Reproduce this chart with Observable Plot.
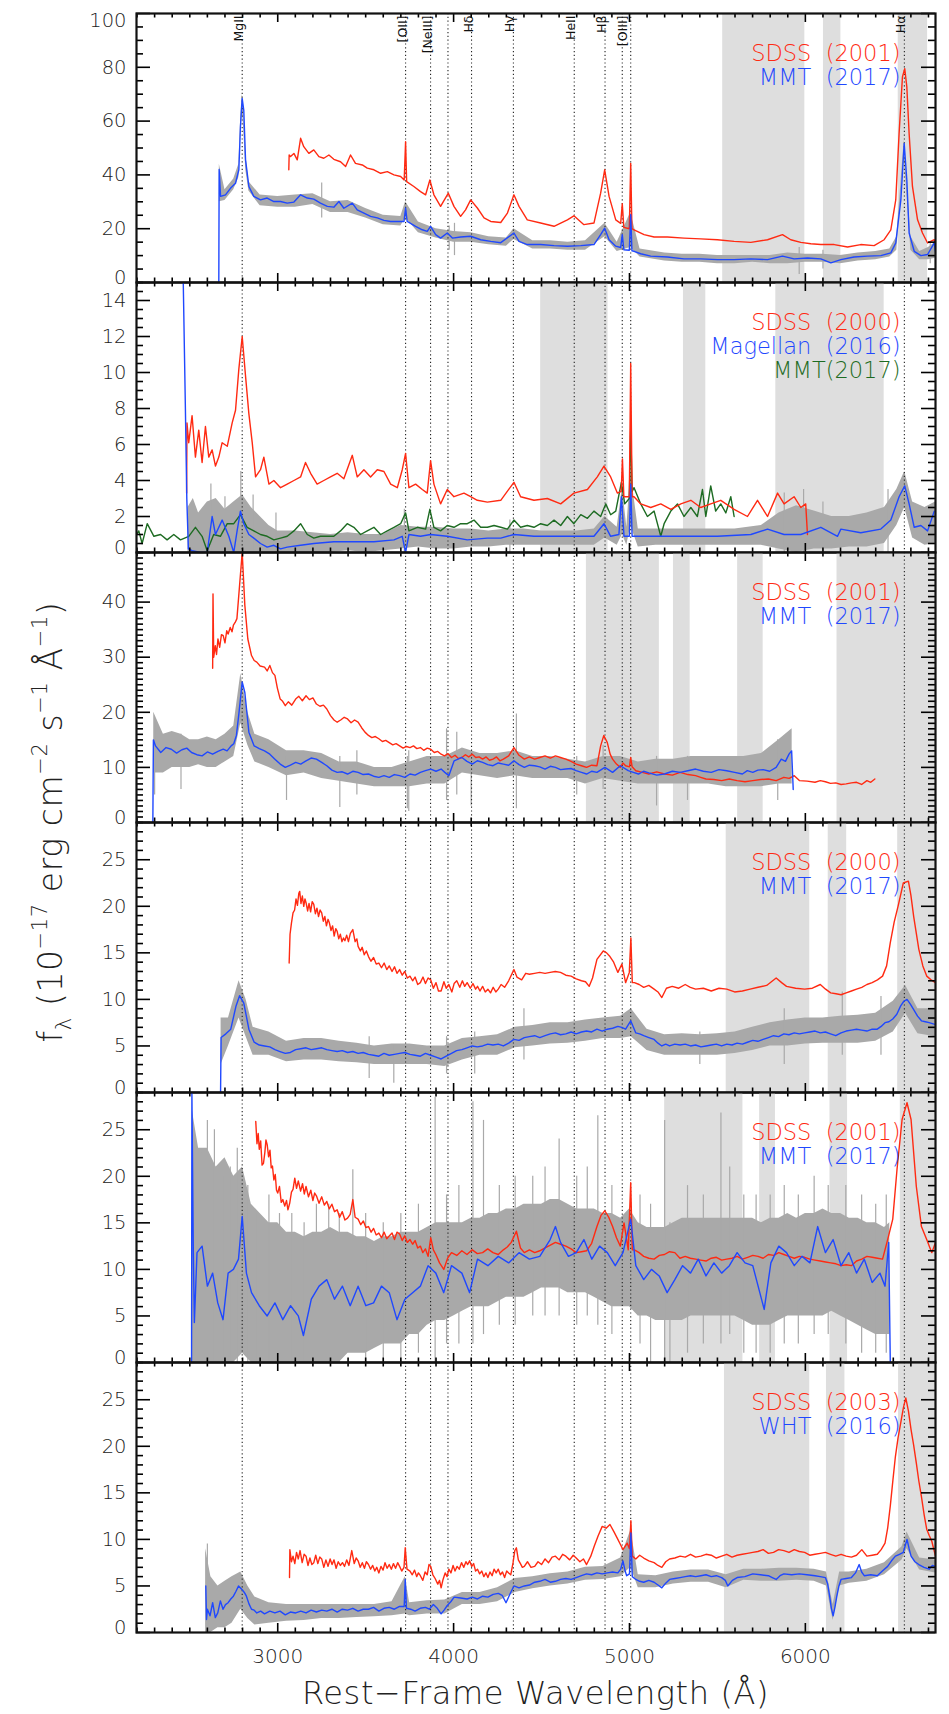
<!DOCTYPE html>
<html>
<head>
<meta charset="utf-8">
<script src="https://cdn.jsdelivr.net/npm/d3@7"></script>
<script src="https://cdn.jsdelivr.net/npm/@observablehq/plot@0.6"></script>
<style>
  body { margin: 0; background: #fff; }
  #chart { position: relative; width: 949px; height: 1714px; color: #222;
           font-family: "DejaVu Sans", sans-serif; font-weight: 200; }
  .panel { position: absolute; left: 0; }
  .panel svg { overflow: visible; }
  #xtitle { position: absolute; left: 136px; width: 799px; top: 1674px; text-align: center;
            font-size: 32px; letter-spacing: 0.6px; }
  #ytitle { position: absolute; left: 52px; top: 822px; transform: translate(-50%, -50%) rotate(-90deg);
            white-space: nowrap; font-size: 33px; letter-spacing: 0.6px; }
  #ytitle sup { font-size: 21px; vertical-align: 15px; }
  #ytitle sub { font-size: 21px; vertical-align: -9px; }
</style>
</head>
<body>
<div id="chart">
  <div id="xtitle">Rest−Frame Wavelength (Å)</div>
  <div id="ytitle">f<sub>λ</sub> (10<sup>−17</sup> erg cm<sup>−2</sup> s<sup>−1</sup> Å<sup>−1</sup>)</div>
</div>
<script>
// ---- shared axes ----
const waveDomain = [2197, 6740];
const xMajorTicks = [3000, 4000, 5000, 6000];
const xMinorStep = 100;

// emission lines marked with dotted rules in every panel
const lineWaves = [2798, 3727, 3869, 3968, 4102, 4340, 4686, 4861, 4959, 5007, 6563];
// line names written along the top of the first panel
const lineNames = ["MgII", "[OII]", "[NeIII]", "Hδ", "Hγ", "HeII", "Hβ", "[OIII]", "Hα"];
const lineNameWaves = [2798, 3727, 3869, 4102, 4340, 4686, 4861, 4983, 6563];

const RED = "#ff2a12", BLUE = "#1f48ff", GREEN = "#1d6b22", GRAY = "#a9a9a9", BAND = "#dedede";

// ---- panel 1 : SDSS 2001 / MMT 2017 ----
const p1Bands = [[5530, 5997], [6103, 6202], [6528, 6695]];
const p1Sdss = [[3063,41.9],[3065,47.4],[3073,46.8],[3092,48],[3111,45.6],[3130,53.6],[3148,50.5],[3177,48],[3205,49.3],[3234,46.8],[3262,46.2],[3291,47.4],[3319,45.8],[3357,44.9],[3386,43.1],[3414,47.4],[3442,44.3],[3481,43.7],[3509,42.5],[3547,41.9],[3585,40.6],[3623,41.2],[3661,40],[3699,39.4],[3719,38.1],[3727,52.3],[3733,37.5],[3774,35.7],[3812,33.8],[3841,32.6],[3865,38.1],[3888,32.6],[3926,28.3],[3970,33.2],[4002,28.3],[4040,24.6],[4068,27],[4097,30.7],[4135,27.7],[4173,24],[4211,22.7],[4268,22.3],[4306,25.8],[4343,32.6],[4372,28.3],[4419,23.3],[4495,22.1],[4571,20.9],[4647,23.3],[4684,24.8],[4741,21.5],[4798,22.1],[4836,33.2],[4859,41.9],[4884,32],[4922,23.3],[4950,22],[4959,29.3],[4968,20.5],[4999,20],[5007,44.3],[5014,20],[5026,19.6],[5083,17.8],[5140,16.9],[5216,16.9],[5310,16.5],[5405,16.2],[5500,15.9],[5595,15.3],[5690,14.9],[5785,15.9],[5870,17.8],[5917,15.9],[5974,14.9],[6031,14.4],[6088,14.1],[6164,14.1],[6240,13.2],[6315,14.1],[6391,13.7],[6448,15.9],[6486,19.6],[6514,30.7],[6533,55.4],[6552,76.4],[6565,79.5],[6577,72.7],[6590,55.4],[6609,35.7],[6638,23.3],[6666,18.4],[6695,14.7],[6733,15.9],[6740,13.5]];
const p1Mmt = [[2665,0],[2667,42],[2675,32],[2703,32.6],[2731,35],[2760,36.9],[2779,41.9],[2788,57.9],[2798,68.4],[2807,64],[2817,45.6],[2836,35.7],[2864,32],[2902,30.7],[2940,31.4],[2978,30.1],[3016,30.1],[3054,29.5],[3092,29.9],[3130,32.6],[3168,31.4],[3205,31],[3243,29.5],[3282,28.3],[3319,28],[3348,30.1],[3376,27.6],[3424,29.5],[3452,27],[3490,25.8],[3528,24.6],[3566,24],[3604,23.1],[3642,22.7],[3680,22.7],[3718,22.7],[3727,27.7],[3736,22.7],[3784,20.9],[3822,19.6],[3850,19],[3869,20.9],[3898,17.8],[3926,16.5],[3964,18.4],[3993,16.5],[4040,16.9],[4097,17.2],[4154,15.9],[4211,15.3],[4268,14.8],[4343,18.4],[4372,15.3],[4419,14.1],[4495,14.1],[4571,13.7],[4647,13.5],[4723,13.7],[4798,14.1],[4836,17.8],[4859,20.2],[4884,15.9],[4922,13.5],[4950,13],[4959,17.8],[4968,12.2],[4999,12],[5007,25.2],[5014,11.8],[5026,11.6],[5064,10.7],[5121,9.8],[5216,9.5],[5310,8.8],[5405,8.8],[5500,8.5],[5595,8.5],[5690,8.8],[5785,8.5],[5870,9.8],[5936,8.8],[6012,9.1],[6088,8.8],[6145,7.3],[6202,8.5],[6277,9.5],[6353,9.8],[6429,10],[6486,11],[6514,14.7],[6543,30.7],[6562,51.7],[6577,38.1],[6590,18.4],[6619,11.6],[6657,10],[6695,10.4],[6733,14.7],[6740,11.6]];
const p1Raw = [[2668,30,44],[2700,30.5,34.5],[2750,34.5,38.5],[2779,39,44],[2790,56,62],[2798,64,70],[2806,58,65],[2818,42,48],[2836,34,37.5],[2900,28.5,32.5],[3000,28,32],[3100,28,32.5],[3200,29,33],[3300,26,30],[3400,26,30.5],[3500,24,27.5],[3600,21.5,25],[3700,21,24.5],[3727,24,30],[3800,18.5,22.5],[3900,16.5,20],[4000,15,19],[4100,15,18.5],[4200,14,17],[4300,13.5,16.5],[4343,16,20],[4450,12.5,15.5],[4550,12.5,15.5],[4650,12,15],[4750,12,15.5],[4860,17,22],[4930,11.5,15],[5007,13,26],[5060,9.5,12.5],[5200,8,11],[5300,7.5,10.5],[5400,7.5,10.5],[5500,7,10],[5600,7,10],[5700,7.5,10],[5800,7,10],[5900,7,11],[6000,7.5,10.5],[6100,7.5,10.5],[6200,7,10],[6300,8,11],[6400,8.5,11.5],[6480,9.5,12.5],[6520,12,17],[6562,47,53],[6600,12,17],[6650,8.5,11.5],[6700,8.5,13],[6740,9,15]];
const p1Spikes = [[3250,24,37],[3975,12,21],[4005,10,22],[5965,3,13],[6100,5,12],[6710,7,15]];

// ---- panel 2 : SDSS 2000 / Magellan 2016 / MMT 2017 ----
const p2Bands = [[4495, 4878], [5307, 5434], [5832, 6448]];
const p2Sdss = [[2482,3.3],[2484,7.2],[2494,6.1],[2513,7.6],[2532,5.3],[2551,6.8],[2570,5],[2589,7],[2608,5.3],[2627,5.7],[2646,4.8],[2665,5.3],[2684,6.1],[2713,5.9],[2741,7.2],[2760,7.9],[2779,10.2],[2798,12],[2817,9.8],[2836,7.7],[2855,6.1],[2874,4.2],[2902,4.6],[2921,5.3],[2950,3.8],[2978,4],[3016,3.6],[3054,3.8],[3092,4],[3130,4.2],[3158,5],[3187,4.4],[3224,3.8],[3262,4],[3300,4.2],[3338,4.4],[3376,4.1],[3424,5.4],[3452,4.2],[3490,4.6],[3528,4.2],[3566,4.6],[3604,4.5],[3642,3.8],[3680,3.6],[3708,4.6],[3727,5.5],[3746,3.6],[3784,3.8],[3822,3.5],[3850,3.3],[3869,5.1],[3888,3.8],[3926,2.7],[3964,3.5],[4002,3.1],[4059,3.3],[4097,3.1],[4135,2.9],[4192,2.8],[4268,2.9],[4343,3.9],[4381,3.1],[4457,2.9],[4533,3],[4609,2.7],[4684,3.3],[4761,3.5],[4817,4.2],[4855,4.8],[4893,4.2],[4931,3.3],[4953,3.4],[4960,5.2],[4968,3.1],[4999,3.1],[5007,10.5],[5015,3.1],[5026,3.1],[5064,2.7],[5121,2.5],[5178,2.7],[5235,2.4],[5292,2.7],[5349,2.9],[5405,2.5],[5462,2.7],[5519,2.9],[5595,2.4],[5671,2],[5728,2.9],[5785,2],[5842,3.3],[5879,2.7],[5936,3.1],[5974,2.5],[6002,2.7],[6012,1]];
const p2Magellan = [[2462,15.5],[2475,8],[2483,3],[2492,0.2],[2513,0.1],[2561,0],[2599,0],[2627,2],[2646,1],[2684,1.8],[2722,0.9],[2750,0],[2769,1.2],[2788,2.3],[2807,1.6],[2836,1],[2864,0.8],[2902,0.5],[2940,0.3],[2978,0.4],[3016,0.2],[3054,0.3],[3130,0.4],[3205,0.5],[3319,0.6],[3433,0.6],[3547,0.6],[3661,0.7],[3708,0.9],[3727,0],[3746,1],[3812,0.9],[3869,1],[3964,0.9],[4078,0.7],[4192,0.8],[4268,0.8],[4343,1],[4457,0.9],[4647,0.9],[4798,0.9],[4855,1.6],[4893,0.9],[4940,1],[4954,3.1],[4969,0.9],[4999,0.9],[5007,3.8],[5015,0.9],[5026,0.9],[5121,0.9],[5310,0.9],[5500,0.9],[5690,1],[5785,1.3],[5879,1],[5974,1],[6088,1.4],[6183,0.9],[6202,1.3],[6315,1.1],[6429,1.3],[6486,1.8],[6533,3.1],[6565,3.7],[6590,2.7],[6619,1.4],[6657,1.5],[6695,1.2],[6733,2.3]];
const p2Mmt = [[2197,1],[2210,1.2],[2229,0.5],[2258,1.6],[2296,0.9],[2334,1],[2371,0.7],[2409,1],[2447,0.7],[2494,0.9],[2532,1.4],[2570,0.9],[2599,0.1],[2636,1],[2674,0.9],[2713,1.6],[2750,1.6],[2788,2.1],[2826,1.4],[2864,1.2],[2902,1],[2940,0.9],[2978,0.7],[3016,0.8],[3054,0.9],[3092,1.2],[3130,1.6],[3168,1],[3205,0.8],[3243,0.9],[3282,0.9],[3319,0.9],[3357,1.2],[3395,1.6],[3433,1.4],[3471,1],[3509,1.2],[3547,1.4],[3585,1],[3623,1.2],[3661,1.4],[3699,1.6],[3727,2.2],[3746,1.2],[3794,1.4],[3841,1.3],[3865,2.4],[3888,1.4],[3926,1.2],[3964,1.5],[4002,1.4],[4040,1.6],[4078,1.6],[4116,1.8],[4154,1.4],[4192,1.4],[4230,1.5],[4268,1.4],[4306,1.3],[4343,1.8],[4381,1.4],[4419,1.5],[4457,1.4],[4495,1.6],[4533,1.5],[4571,1.8],[4609,1.5],[4647,2],[4684,1.6],[4723,2.1],[4761,1.9],[4798,2.3],[4836,2],[4865,2.7],[4893,2.1],[4922,2.3],[4954,3.9],[4973,2.7],[4999,3],[5007,7],[5015,3.4],[5026,3.6],[5064,2.7],[5102,2],[5140,2.3],[5178,0.9],[5197,1.6],[5235,2.3],[5273,2.7],[5310,2],[5349,2.5],[5386,2],[5415,3.5],[5434,2],[5462,3.7],[5490,2.3],[5519,2.7],[5548,2.2],[5576,3.1],[5595,2]];
const p2Raw = [[2490,0,2.5],[2520,0,3],[2550,0,2.2],[2600,0,2.8],[2650,0,3],[2700,0,2.4],[2750,0,2.8],[2800,0,3.2],[2850,0,2.5],[2900,0,2],[2950,0,1.5],[3000,0,1.2],[3100,0,1.2],[3200,0,1.1],[3300,0,1],[3400,0.1,1.1],[3500,0,1],[3600,0.1,1],[3700,0.2,1.5],[3800,0.3,1.4],[3900,0.2,1.4],[4000,0.2,1.3],[4100,0.3,1.3],[4200,0.3,1.2],[4300,0.4,1.3],[4400,0.4,1.3],[4500,0.4,1.2],[4600,0.4,1.2],[4700,0.4,1.2],[4800,0.4,1.3],[4860,0.8,2],[4930,0.4,1.4],[4960,1,3.6],[4985,0.4,1.4],[5007,1.5,4.5],[5050,0.3,1.3],[5150,0.4,1.3],[5300,0.4,1.3],[5450,0.4,1.3],[5600,0.4,1.3],[5750,0.4,1.5],[5850,0.2,2.2],[5950,0,2.6],[6050,0.2,2.3],[6150,0.2,2],[6250,0.3,2],[6350,0.3,2.2],[6450,0.5,2.5],[6520,1.5,3.5],[6565,2.5,4.5],[6610,0.8,2.8],[6680,0.4,2.5],[6740,0.5,2.8]];
const p2Spikes = [[2620,0,3.8],[2700,0,3.1],[2790,0,4.5],[2860,0,3.2],[2990,0,2.2],[3720,0,2.4],[4320,0,1.8],[5880,0,3.3],[5990,0,3.5],[6100,0,2.8],[6470,0,3.5]];

// ---- panel 3 : SDSS 2001 / MMT 2017 ----
const p3Bands = [[4755, 5170], [5250, 5345], [5615, 5760], [6180, 6740]];
const p3Sdss = [[2630,28],[2632,41.5],[2636,30],[2645,32.1],[2652,30.5],[2660,33.3],[2670,31.8],[2680,34.1],[2690,33.9],[2700,32.6],[2710,34.8],[2718,34.2],[2730,35.4],[2740,34.6],[2748,35.8],[2758,36.3],[2768,37],[2783,43],[2798,49],[2813,39.4],[2830,33.3],[2851,30.3],[2866,29.4],[2881,29.1],[2900,28.4],[2925,28.2],[2940,27.5],[2955,28.5],[2970,27.2],[2984,26.7],[2998,24.4],[3014,22.4],[3028,22],[3043,21.2],[3060,21.9],[3080,21.3],[3102,22.4],[3120,22.9],[3140,22.1],[3161,23],[3180,22.3],[3200,22.6],[3220,21.5],[3240,21.1],[3260,21.3],[3279,20.6],[3300,19.4],[3320,18.6],[3338,18.2],[3358,18.6],[3378,19.1],[3397,18.8],[3417,18.1],[3437,18.6],[3457,18.2],[3477,17.2],[3496,16.4],[3516,15.8],[3535,15.4],[3555,15.6],[3575,15.2],[3595,14.7],[3614,14.9],[3634,14.5],[3654,14.1],[3673,14.3],[3693,13.9],[3713,13.5],[3732,13.8],[3752,13.6],[3772,13.9],[3791,13.4],[3811,13.6],[3830,13.1],[3850,13.5],[3870,13.3],[3890,12.7],[3910,12.9],[3929,12.4],[3948,12.1],[3968,12.5],[3988,11.8],[4008,12.2],[4027,11.6],[4047,11.8],[4067,12.3],[4086,11.9],[4106,12.4],[4126,11.8],[4145,11.9],[4165,11.5],[4185,11.9],[4204,11.3],[4224,11.5],[4244,11.9],[4263,11.2],[4283,11.5],[4313,12.1],[4343,13.6],[4372,12.2],[4402,11.5],[4431,11.9],[4461,11.5],[4490,11.8],[4520,12.1],[4550,11.7],[4579,12.1],[4608,11.8],[4638,11.5],[4668,11.1],[4697,10.6],[4727,10.3],[4756,10],[4785,10.4],[4815,10.3],[4836,13.9],[4854,15.8],[4874,14.5],[4890,12.4],[4904,11.5],[4926,10.6],[4948,10],[4963,10.8],[4978,10.3],[5000,10.1],[5007,11.8],[5015,10.1],[5036,9.4],[5073,9.1],[5110,8.8],[5155,9.2],[5199,8.8],[5244,8.6],[5288,9.1],[5332,8.7],[5376,8.5],[5405,8.2],[5435,7.9],[5480,7.8],[5524,7.6],[5568,7.9],[5612,7.6],[5657,7.4],[5701,7.6],[5746,7.8],[5790,7.9],[5834,7.6],[5878,8.2],[5908,8],[5937,8.5],[5966,7.6],[6010,7.5],[6055,7.3],[6085,7.6],[6114,7.4],[6143,7.1],[6173,7.2],[6203,6.9],[6232,7],[6262,7.2],[6291,7.3],[6320,6.9],[6350,7.6],[6372,7.3],[6395,7.9]];
const p3Mmt = [[2290,0],[2293,15],[2305,13.9],[2335,12.7],[2365,13.6],[2395,13.3],[2425,12.6],[2455,13.2],[2483,13.5],[2510,12.7],[2540,12.3],[2570,12.1],[2600,12.8],[2630,12.4],[2660,12.9],[2690,13.3],[2712,13],[2735,13.9],[2750,14.3],[2765,15.8],[2780,20],[2798,25.5],[2813,23.6],[2836,16.4],[2866,13.9],[2895,13.4],[2925,13],[2955,12.4],[2984,11.5],[3014,10.6],[3043,10],[3072,10.4],[3102,10.9],[3131,10.6],[3161,11.2],[3190,11.7],[3220,11.5],[3250,10.9],[3279,10.3],[3308,9.5],[3338,9.1],[3367,9.2],[3397,8.8],[3427,9.3],[3457,9.1],[3486,8.7],[3516,8.8],[3545,8.4],[3575,8.2],[3604,8.5],[3634,8.2],[3663,8.7],[3693,8.5],[3722,8.2],[3752,8.8],[3781,8.6],[3811,9.1],[3840,9.4],[3870,9.7],[3900,9.3],[3929,9.7],[3950,9.1],[3973,8.5],[4003,11.2],[4025,11.5],[4047,11.8],[4076,11.1],[4106,10.6],[4135,11.2],[4165,10.9],[4194,10.5],[4224,10.3],[4254,10.8],[4283,10.6],[4313,10.4],[4343,11.2],[4372,10.5],[4402,10],[4431,10.4],[4461,10.3],[4490,10.1],[4520,9.7],[4550,10.2],[4579,10],[4608,9.6],[4638,9.7],[4668,9.8],[4697,9.4],[4727,9.1],[4756,8.8],[4785,9.3],[4815,9.1],[4860,10],[4904,9.1],[4948,10.3],[4993,9.4],[5022,9.1],[5051,8.8],[5080,9.3],[5110,9],[5155,8.6],[5199,8.8],[5244,9.3],[5288,9.1],[5332,9.4],[5376,9.7],[5420,9.3],[5465,9.1],[5509,9.6],[5553,9.4],[5598,9.1],[5642,8.8],[5670,9.4],[5701,9.1],[5730,9.5],[5760,9.6],[5797,9.3],[5834,10],[5863,11.5],[5887,11.1],[5907,12.4],[5922,13],[5931,6]];
const p3Raw = [[2295,9,20],[2350,9,16],[2400,10,16.5],[2450,10,16],[2500,10,15],[2550,10.5,15],[2600,10,15.5],[2650,10,15],[2700,11,16],[2750,12,17.5],[2790,18,27],[2830,14,20],[2870,11,16],[2950,10,15],[3050,8.5,13],[3150,9,13],[3250,8,12.5],[3350,7.5,11],[3450,7,11],[3550,6.5,10],[3650,6.5,10],[3750,6.5,11],[3850,7,12],[3950,7,12],[4050,9,13.5],[4150,8.5,12.5],[4250,8,12.5],[4350,8.5,13],[4450,8,12],[4550,8,12],[4650,8,11.5],[4750,7,11],[4850,8,12],[4950,7.5,12],[5050,7,11],[5150,7,11.5],[5250,7,11.5],[5350,7,12],[5450,7,12],[5550,6.5,12],[5650,6.5,12],[5750,6.5,12.5],[5850,7,15],[5925,7,17]];
const p3Spikes = [[2300,5,18],[2450,6,16],[3050,4,12],[3353,2.7,12],[3450,5,13],[3737,2.5,12],[3745,2,13],[3960,4,17],[4018,5,16.4],[4100,3,13],[4357,2.5,19.7],[4700,5,12],[4850,6,14],[5154,3,12],[5330,4,12],[5843,4,15]];

// ---- panel 4 : SDSS 2000 / MMT 2017 ----
const p4Bands = [[5550, 6025], [6130, 6235], [6525, 6740]];
const p4Sdss = [[3065,13.9],[3070,17],[3078,18.2],[3087,19.3],[3096,19.6],[3104,20.8],[3112,20.1],[3120,21.4],[3125,21.6],[3132,20.3],[3140,21.1],[3148,20],[3155,20.8],[3161,20.4],[3170,19.5],[3178,20.3],[3187,19.4],[3196,20.5],[3205,20.2],[3214,19.2],[3223,19.8],[3232,18.9],[3241,19.6],[3250,19.3],[3259,18.4],[3268,18.9],[3277,17.9],[3286,18.6],[3294,18.2],[3303,17.4],[3312,17.9],[3321,16.8],[3330,17.6],[3338,17.3],[3347,16.5],[3356,17],[3365,16.2],[3374,16.6],[3382,16.3],[3392,16.9],[3402,16.2],[3413,17.1],[3427,17.5],[3440,16.2],[3450,16.5],[3457,15.7],[3470,15.2],[3480,15.6],[3492,14.8],[3504,15.2],[3516,14.6],[3530,14.1],[3545,14.5],[3560,13.8],[3575,13.9],[3590,13.4],[3605,13.9],[3620,13.2],[3634,13.6],[3650,13],[3664,13.5],[3678,12.8],[3693,13.2],[3708,12.6],[3722,13],[3737,12.3],[3752,12.5],[3767,12],[3781,12.4],[3796,11.6],[3811,11.8],[3826,12.4],[3840,11.7],[3855,12.3],[3870,12.1],[3885,11.2],[3900,11.8],[3914,10.9],[3929,10.9],[3945,11.9],[3958,11.2],[3973,11.6],[3990,10.8],[4003,11.7],[4018,12],[4035,11.3],[4050,12],[4063,11.4],[4077,11.8],[4095,11.2],[4110,11.7],[4125,11.1],[4136,11.4],[4150,10.9],[4165,11.4],[4180,10.8],[4195,11.1],[4210,10.7],[4225,11.3],[4240,10.8],[4254,11.1],[4270,11.6],[4290,11.3],[4313,12],[4343,13.2],[4360,12.4],[4387,12.1],[4410,12.8],[4431,12.7],[4460,12.8],[4490,12.9],[4520,12.8],[4549,12.9],[4578,13],[4608,12.9],[4638,12.6],[4668,12.5],[4697,12.2],[4727,12],[4750,11.9],[4771,11.4],[4790,12.3],[4815,14.3],[4851,15.2],[4870,15],[4889,14.6],[4910,14],[4934,12.9],[4957,13.8],[4978,11.8],[4999,12.9],[5008,16.6],[5016,11.8],[5028,11.8],[5055,11.6],[5081,11.3],[5110,11.5],[5140,11.1],[5162,10.8],[5184,10.2],[5210,11.2],[5243,11.4],[5280,11.2],[5317,11.6],[5346,11.3],[5376,11.1],[5420,11.2],[5465,10.9],[5509,11.2],[5553,11.1],[5598,10.8],[5642,10.9],[5686,11.1],[5731,11.3],[5780,11.5],[5834,12.3],[5865,11.8],[5893,11.4],[5945,11.2],[5996,11.1],[6040,11.2],[6085,11.6],[6115,11.1],[6144,10.7],[6174,10.6],[6203,10.5],[6232,10.7],[6262,10.9],[6291,11.1],[6321,11.3],[6350,11.6],[6380,11.8],[6410,12.1],[6439,12.5],[6462,13.6],[6483,16.1],[6505,18.3],[6527,20],[6557,22.5],[6586,22.7],[6600,21.2],[6616,18.9],[6645,15.4],[6668,13.6],[6690,12.5],[6715,12.1],[6740,11.8]];
const p4Mmt = [[2675,0],[2678,5.9],[2705,6.3],[2733,6.8],[2763,9.3],[2783,10.4],[2807,9.6],[2836,6.8],[2866,5.4],[2895,5.1],[2925,5],[2955,4.9],[2984,4.6],[3013,4.4],[3043,4.2],[3072,4.3],[3102,4.6],[3131,4.7],[3161,4.8],[3190,4.6],[3220,4.7],[3250,4.8],[3279,4.6],[3308,4.5],[3338,4.4],[3367,4.5],[3397,4.3],[3427,4.4],[3457,4.2],[3486,4.3],[3516,4.1],[3545,4],[3575,3.9],[3604,4.2],[3634,4],[3663,4.1],[3693,4.2],[3722,4.3],[3752,4.1],[3781,4],[3811,3.9],[3840,4.2],[3870,4],[3900,3.8],[3929,3.6],[3958,3.9],[3988,4.2],[4017,4.5],[4047,4.6],[4076,4.8],[4106,5],[4135,4.9],[4165,5],[4194,5.2],[4224,5.1],[4254,5.2],[4283,5],[4313,5.3],[4343,5.7],[4372,5.6],[4402,5.9],[4431,6],[4461,6.1],[4490,5.9],[4520,6.1],[4550,6.3],[4579,6.4],[4608,6.2],[4638,6.3],[4668,6.5],[4697,6.3],[4727,6.5],[4756,6.6],[4785,6.5],[4815,6.8],[4845,6.6],[4874,6.8],[4904,6.9],[4934,7.1],[4956,7],[4978,6.8],[5007,7.7],[5036,6.4],[5058,6.3],[5081,6.1],[5110,5.9],[5140,5.7],[5162,5.3],[5184,5],[5206,5.2],[5228,5],[5258,5.2],[5288,5.1],[5317,5.2],[5347,5],[5376,5.1],[5406,4.9],[5435,5],[5465,5.1],[5494,5.2],[5524,5],[5553,5.2],[5583,5.1],[5612,5.3],[5642,5.2],[5671,5.4],[5701,5.6],[5730,5.5],[5760,5.7],[5790,5.9],[5819,6.1],[5848,6],[5878,6.3],[5907,6.2],[5937,6.4],[5966,6.3],[5996,6.4],[6025,6.5],[6055,6.6],[6085,6.4],[6114,6.5],[6143,6.3],[6173,6.1],[6203,6.4],[6232,6.6],[6262,6.7],[6291,6.8],[6320,6.7],[6350,6.6],[6380,6.8],[6409,6.8],[6431,7.1],[6453,7.5],[6475,7.6],[6497,7.9],[6520,8.4],[6542,9.3],[6560,9.8],[6578,10],[6597,9.5],[6616,8.9],[6638,8.2],[6660,7.7],[6682,7.6],[6704,7.5],[6722,7.4],[6740,7.3]];
const p4Raw = [[2678,3,8],[2720,5,8],[2780,8,12],[2820,6,10],[2860,4,7],[2950,4,6.5],[3050,3.3,5.5],[3150,3.5,5.8],[3250,3.5,5.8],[3350,3.3,5.5],[3450,3.2,5.3],[3550,3,5],[3650,3,5.2],[3750,3,5.2],[3850,3,5],[3950,2.8,5],[4050,3.5,5.8],[4150,4,6],[4250,4,6.2],[4350,4.8,7],[4450,5,7.2],[4550,5.2,7.5],[4650,5.3,7.5],[4750,5.5,7.8],[4850,5.8,8],[4950,5.8,8.2],[5010,6,9],[5100,4.5,6.8],[5200,4,6.2],[5300,4,6.3],[5400,4,6.2],[5500,4,6.3],[5600,4.2,6.5],[5700,4.5,7],[5800,5,7.5],[5900,5,7.8],[6000,5.2,8],[6100,5.3,8],[6200,5.3,8.2],[6300,5.3,8.3],[6400,5.5,8.5],[6500,6.5,9.8],[6570,8.5,11.5],[6640,6.3,9],[6740,6,9]];
const p4Spikes = [[3520,1.5,6],[3660,1,5],[3960,2,6],[4120,2,6.5],[4400,3.5,9],[5400,3,6.5],[5880,3,9],[6210,4,10.8],[6430,4,10.3]];

// ---- panel 5 : SDSS 2001 / MMT 2017 ----
const p5Bands = [[5200, 5645], [5740, 5830], [6140, 6240], [6540, 6740]];
const p5Sdss = [[2875,25.9],[2882,23.5],[2889,24.6],[2895,22.9],[2903,23.8],[2911,21.2],[2919,21.4],[2927,22.6],[2933,23.9],[2940,23.4],[2948,22.1],[2956,22.8],[2963,20.9],[2970,21.1],[2978,19.6],[2986,20.2],[2993,18.5],[3000,18.2],[3010,18.9],[3020,17.2],[3029,17.5],[3040,16.8],[3050,17.4],[3058,16.4],[3068,17.1],[3078,18.3],[3087,18.6],[3097,19.8],[3107,18.7],[3117,19.5],[3130,18.4],[3141,19.2],[3151,18.1],[3161,18.9],[3175,17.8],[3188,18.5],[3200,17.4],[3210,18.2],[3220,17.9],[3235,17.1],[3250,17.8],[3265,16.9],[3279,17.3],[3293,16.5],[3308,17],[3323,16.2],[3338,16.4],[3352,15.6],[3367,16.2],[3382,15.3],[3397,15.5],[3412,15.9],[3427,17.5],[3440,15.6],[3457,15.4],[3472,14.8],[3487,15.2],[3501,14.5],[3516,14.6],[3531,14],[3545,14.4],[3560,13.7],[3575,13.9],[3590,13.4],[3605,14],[3620,13.3],[3634,13.6],[3650,13.9],[3664,13.2],[3678,14],[3693,13.8],[3708,13.1],[3722,13.6],[3737,12.9],[3752,13.2],[3767,12.7],[3781,13.1],[3796,12.3],[3811,12.5],[3825,11.8],[3840,12.2],[3855,11.4],[3870,13.4],[3885,12.1],[3899,11.6],[3920,10.7],[3944,10],[3966,11.2],[3988,11.8],[4018,11.5],[4047,12],[4076,11.6],[4106,12.1],[4135,11.7],[4165,11.8],[4194,12.2],[4224,11.8],[4254,11.6],[4283,12.1],[4305,12.4],[4328,12.9],[4357,14.1],[4380,12.3],[4402,11.8],[4431,12.1],[4461,11.8],[4490,12],[4520,12.3],[4550,12.6],[4579,12.9],[4608,12.7],[4638,12.5],[4668,12.2],[4697,11.8],[4727,11.9],[4756,12],[4785,12.8],[4815,14.6],[4838,15.8],[4860,16.3],[4882,15.6],[4904,14.6],[4926,13.4],[4948,12.5],[4969,15],[4993,12.1],[5007,19.3],[5016,12.1],[5028,12.1],[5055,11.8],[5081,11.4],[5110,11.2],[5140,11.1],[5170,11.5],[5199,11.6],[5228,11.9],[5258,11.8],[5287,11.2],[5317,11.4],[5346,11.2],[5376,11.1],[5405,11],[5435,10.9],[5465,11.2],[5494,11.3],[5524,11],[5553,11.1],[5583,11.2],[5612,11.4],[5642,11.1],[5672,11.3],[5701,11.5],[5731,11.4],[5760,11.2],[5790,11.6],[5820,11.5],[5849,11.8],[5878,11.6],[5907,11.4],[5937,11.2],[5966,11.4],[5996,11.3],[6026,11.1],[6055,11],[6085,10.9],[6115,10.8],[6144,10.7],[6174,10.6],[6203,10.4],[6232,10.5],[6262,10.4],[6291,10.9],[6321,11.1],[6350,11.4],[6380,11.3],[6410,11.2],[6439,11.1],[6468,13.2],[6497,15.4],[6521,20.7],[6550,26.1],[6578,27.9],[6601,26.1],[6631,18.9],[6660,14.6],[6690,13.2],[6719,11.8],[6740,12.9]];
const p5Mmt = [[2510,0],[2512,29],[2520,12],[2526,4.3],[2541,11.8],[2570,12.5],[2600,8.2],[2630,9.6],[2659,6.4],[2689,4.6],[2718,9.6],[2748,10],[2777,11.1],[2798,15.7],[2822,9.6],[2851,7.5],[2895,6.1],[2940,5],[2984,6.4],[3029,4.6],[3073,6.1],[3117,5],[3146,2.9],[3191,6.8],[3235,8.2],[3279,8.9],[3323,6.8],[3368,8.2],[3412,6.1],[3457,8.2],[3501,6.1],[3545,6.4],[3590,8.2],[3634,7.5],[3678,4.6],[3723,6.8],[3767,7.5],[3811,8.2],[3855,10.4],[3899,9.6],[3944,7.5],[3988,10.4],[4047,9.6],[4091,7.5],[4136,11.1],[4195,10.4],[4254,11.4],[4313,10.7],[4372,11.8],[4431,11.1],[4490,11.4],[4549,13.2],[4579,14.6],[4608,12.9],[4653,11.4],[4697,11.8],[4741,13.2],[4786,11.1],[4830,12.5],[4874,11.8],[4919,10.4],[4963,11.8],[5007,15.4],[5036,10.4],[5081,8.9],[5125,10],[5169,9.3],[5214,7.5],[5258,8.9],[5302,10.4],[5347,9.6],[5391,11.1],[5435,9.3],[5480,10.7],[5524,9.6],[5568,10.4],[5612,11.8],[5657,10.7],[5701,10.4],[5766,5.7],[5804,10.7],[5849,12.5],[5893,11.8],[5937,10.4],[5981,11.4],[6026,10.7],[6070,14.6],[6114,11.8],[6158,13.2],[6203,10.4],[6247,11.8],[6291,9.6],[6335,11.1],[6380,8.6],[6424,9.6],[6453,8.2],[6474,12.9],[6483,0]];
const p5Raw = [[2515,0,27],[2550,0,23],[2600,0,23],[2650,0,21],[2700,0,22],[2750,0,20],[2800,1,21],[2850,0,17],[2900,0,16],[2950,0,15],[3000,0,15],[3050,0,14],[3100,0,14],[3150,0,13.5],[3200,0,14],[3250,0,14],[3300,0,14.5],[3350,0,14],[3400,1,14],[3450,1,13.5],[3500,1,13.5],[3550,1.5,13],[3600,2,13.5],[3650,2,13.5],[3700,2,14],[3750,3,14],[3800,3,14],[3850,4,14.5],[3900,4.5,15],[3950,4.5,15],[4000,5,15],[4050,5.5,15],[4100,6,15.5],[4150,6,15.5],[4200,6,16],[4250,6.5,16],[4300,7,16.5],[4350,7,16.5],[4400,7,17],[4450,7.5,17],[4500,8,17],[4550,8,17.5],[4600,8,17.5],[4650,7.5,17],[4700,7.5,16.5],[4750,7.5,16.5],[4800,7,16.5],[4850,6.5,16],[4900,6,16],[4950,6,15.5],[5000,6,16.5],[5050,5,15],[5100,5,14.5],[5150,4.5,14.5],[5200,4.5,14.5],[5250,4.5,15],[5300,4.5,15.5],[5350,5,15.5],[5400,5,15.5],[5450,5,15.5],[5500,5,15.5],[5550,5,15.5],[5600,5,15.5],[5650,4.5,15.5],[5700,4,15.5],[5750,4,15],[5800,4,15.5],[5850,4.5,15.5],[5900,5,16],[5950,5,15.5],[6000,5,16],[6050,5,16],[6100,5,16.5],[6150,5.5,16],[6200,5,16],[6250,4.5,15.5],[6300,4,15.5],[6350,3.5,15],[6400,3,15],[6450,3,14.5],[6480,3,15]];
const p5Spikes = [[2530,0,24],[2570,0,22.5],[2600,0,26],[2640,0,25],[2690,0,20],[2730,0,21],[2770,0,23],[2830,0,19],[2880,0,16],[2950,0,18],[3010,0,16],[3080,0,16],[3150,0,15],[3220,0,17],[3290,0,17],[3350,0,16],[3427,2,20.7],[3500,0,16],[3600,0,15],[3700,0,16],[3800,1,17],[3895,0,28.5],[3960,2,18],[4030,2,19],[4110,2,28],[4170,3,26],[4260,4,19],[4350,4,20],[4450,5,20],[4520,5,21],[4600,5,24],[4700,4,20],[4760,5,21],[4820,4,26.5],[4900,3,19],[5060,2,18],[5120,0,17],[5200,0,26],[5230,0,15],[5330,1,19],[5420,2,18],[5520,2,26.8],[5570,3,21],[5650,1,18],[5720,1,18],[5800,1,18],[5880,2,19],[5960,2,18],[6050,3,20],[6130,3,19],[6230,2,19],[6320,1,18],[6400,1,17],[6460,1,18]];

// ---- panel 6 : SDSS 2003 / WHT 2016 ----
const p6Bands = [[5540, 6025], [6120, 6225], [6530, 6740]];
const p6Sdss = [[3067,5.9],[3069,8.9],[3078,7.6],[3087,8.2],[3097,7.4],[3107,8.6],[3117,7.9],[3127,8.8],[3139,7.5],[3150,8.4],[3161,8.2],[3172,7.2],[3183,8],[3194,7.3],[3205,7.5],[3216,8.3],[3228,7.4],[3239,8.1],[3250,7.9],[3262,7],[3274,7.8],[3286,7.1],[3298,7.9],[3309,7.3],[3320,7.8],[3332,6.9],[3344,7.6],[3356,7.2],[3368,7.5],[3380,7.1],[3392,7.8],[3405,7.2],[3421,8.8],[3435,7.4],[3446,8],[3457,7.7],[3469,7],[3481,7.5],[3493,6.9],[3504,7.6],[3516,7.3],[3528,6.8],[3540,7.2],[3552,6.6],[3563,7],[3575,6.4],[3587,7.1],[3599,6.7],[3610,7.5],[3622,6.9],[3634,7.3],[3646,6.8],[3658,7.4],[3670,6.9],[3682,7.5],[3693,7.1],[3705,6.6],[3718,7],[3725,9.1],[3735,6.8],[3752,6.6],[3765,6.2],[3778,6.7],[3790,6],[3800,6.4],[3811,6.1],[3825,5.6],[3838,6.5],[3850,6.2],[3860,7.3],[3870,7.1],[3882,6.2],[3895,5.8],[3910,5.2],[3920,5.6],[3929,4.8],[3940,5.7],[3952,6.4],[3963,6],[3973,6.8],[3985,6.4],[3997,7.2],[4008,6.6],[4020,7.1],[4032,6.8],[4045,7.5],[4058,7],[4070,7.6],[4080,7.3],[4091,7.7],[4103,7.1],[4114,7.4],[4125,6.6],[4136,6.8],[4148,6.3],[4160,6.6],[4172,6],[4184,6.4],[4195,5.9],[4207,6.5],[4219,6.1],[4230,6.8],[4242,6.4],[4254,6.8],[4266,6.2],[4278,6.5],[4290,5.9],[4302,6.6],[4313,6.4],[4325,6.2],[4338,7.5],[4348,8.8],[4357,9.1],[4368,7.8],[4380,7.4],[4391,7],[4402,7.1],[4420,7.6],[4440,7],[4461,7.1],[4480,7.6],[4500,7.3],[4520,7.9],[4540,7.5],[4560,8.1],[4579,8.2],[4600,7.8],[4620,8.4],[4638,8.2],[4660,7.8],[4680,8.3],[4697,8],[4718,7.6],[4738,7.9],[4756,7.3],[4780,8.2],[4800,9.3],[4822,10.4],[4845,11.4],[4867,11.2],[4889,11.6],[4912,10.8],[4934,10],[4950,9.4],[4963,8.9],[4987,9.6],[5000,9],[5008,12],[5016,8.2],[5036,7.9],[5058,8.3],[5081,8],[5110,7.7],[5140,7.5],[5162,7.2],[5184,7],[5206,7.6],[5228,7.9],[5258,8],[5288,8.2],[5317,8.1],[5347,8.4],[5376,8.1],[5406,8.2],[5435,8.4],[5465,8.3],[5494,8],[5524,8.2],[5553,8.4],[5583,8.1],[5612,8.3],[5642,8.4],[5671,8.5],[5701,8.6],[5730,8.7],[5760,8.9],[5790,8.5],[5819,8.6],[5848,8.9],[5878,8.8],[5907,8.6],[5937,8.9],[5966,8.7],[5996,8.6],[6025,8.3],[6055,8.4],[6085,8.5],[6114,8.6],[6143,8.4],[6173,8.2],[6203,8.4],[6232,8.2],[6262,8.1],[6291,8.3],[6321,8.9],[6350,8.2],[6380,8.3],[6409,8.4],[6431,8.9],[6453,9.6],[6468,11.2],[6483,13.6],[6498,16.4],[6512,18.9],[6527,20.9],[6542,22.5],[6557,24.1],[6571,25.2],[6586,23.8],[6601,21.8],[6616,20.1],[6631,18.2],[6645,16.3],[6660,14.6],[6675,12.7],[6690,11.1],[6705,10.4],[6719,9.8],[6740,8.2]];
const p6Wht = [[2591,5],[2595,1.4],[2600,2.5],[2615,1.8],[2630,3.2],[2645,1.6],[2659,2.1],[2674,3.4],[2689,2.5],[2703,3],[2718,3.2],[2733,3.6],[2748,3.9],[2762,4.4],[2777,5],[2798,4.6],[2810,4.3],[2822,3.9],[2836,3.1],[2851,2.5],[2866,2.4],[2881,2.1],[2903,2.3],[2925,2],[2955,2.3],[2984,2.1],[3013,2.3],[3043,1.9],[3072,2.2],[3102,2.1],[3131,2.3],[3161,2.1],[3190,2.4],[3220,2.2],[3250,2.4],[3279,2.3],[3308,2.5],[3338,2.2],[3367,2.5],[3397,2.4],[3427,2.6],[3457,2.3],[3486,2.5],[3516,2.5],[3545,2.7],[3575,2.3],[3604,2.6],[3634,2.7],[3663,2.5],[3693,2.8],[3719,2.8],[3725,5.7],[3732,2.6],[3756,2.5],[3781,2.3],[3810,2.6],[3840,2.7],[3862,2.5],[3885,3],[3907,2.6],[3929,2],[3946,2.4],[3964,2.9],[3984,3.3],[4003,3.8],[4040,3.7],[4077,3.6],[4106,3.8],[4136,3.6],[4165,3.9],[4195,3.8],[4225,4.1],[4254,4.2],[4276,4],[4298,3.2],[4320,4.1],[4343,5],[4372,4.8],[4402,5],[4431,5.1],[4461,5.4],[4490,5.5],[4520,5.7],[4550,5.4],[4579,5.5],[4608,5.7],[4638,5.8],[4668,5.7],[4697,5.9],[4727,6.1],[4756,6.3],[4785,6.2],[4815,6.4],[4845,6.3],[4874,6.4],[4904,6.5],[4934,6.4],[4950,6.8],[4963,7.7],[4974,6.7],[4984,6.1],[5000,6.3],[5008,10.7],[5016,6],[5036,5.7],[5058,5.5],[5081,5.4],[5110,5.6],[5140,5.4],[5162,5.1],[5184,4.8],[5206,5.3],[5228,5.7],[5258,5.8],[5288,5.9],[5317,6],[5347,6.1],[5376,6],[5406,6.1],[5435,6.2],[5465,6],[5494,6.1],[5524,5.9],[5545,5.6],[5559,5],[5585,5.6],[5612,5.9],[5656,6],[5701,6.3],[5745,6.2],[5790,6.1],[5812,5.9],[5834,5.7],[5856,6.1],[5878,6.3],[5922,6.2],[5966,6.3],[6010,6.2],[6055,6.1],[6085,6],[6114,5.9],[6127,5.2],[6138,3.9],[6148,2.6],[6158,1.8],[6168,2.7],[6179,3.9],[6191,5],[6203,5.7],[6232,5.8],[6262,5.9],[6285,6.4],[6306,7.3],[6320,6.5],[6335,6.1],[6372,6.2],[6409,6.1],[6438,6.6],[6468,7.1],[6490,7.7],[6512,8.2],[6535,8.4],[6557,8.6],[6578,10],[6590,9],[6601,8.2],[6623,7.6],[6645,7.3],[6675,7],[6704,6.8],[6722,7.2],[6740,7.1]];
const p6Raw = [[2590,0,9],[2620,0,6],[2660,0.5,5],[2700,0.5,5.5],[2740,1,6],[2790,2.5,6.5],[2830,1.5,5],[2870,0.8,3.8],[2950,1,3.2],[3050,1.2,3],[3150,1.3,3],[3250,1.5,3],[3350,1.5,3],[3450,1.6,3],[3550,1.7,3],[3650,1.8,3.3],[3725,2,6],[3750,1.8,3.2],[3850,2,3.4],[3950,2,3.5],[4050,3,4.3],[4150,3,4.3],[4250,3.3,4.8],[4350,4.3,5.8],[4450,4.7,6],[4550,5,6.3],[4650,5.2,6.5],[4750,5.6,7],[4850,5.7,7.1],[4950,6,8],[5008,7,11],[5050,4.8,6.2],[5150,4.8,6.1],[5250,5.2,6.5],[5350,5.4,6.7],[5450,5.4,6.7],[5550,4.8,6.2],[5650,5.6,6.8],[5750,5.5,6.8],[5850,5.5,6.9],[5950,5.6,6.9],[6050,5.5,6.8],[6120,5,6.5],[6158,1.3,3],[6195,5,6.5],[6250,5.3,6.5],[6350,5.5,6.8],[6450,6.2,7.5],[6550,7.8,9.2],[6578,9,10.8],[6650,6.7,8],[6740,6.4,7.8]];
const p6Spikes = [[2600,0,9.5]];

const panels = [
  {top: 13,   height: 269, yDomain: [0, 100], yMajor: [0, 20, 40, 60, 80, 100], yMinorStep: 5,
   bands: p1Bands, raw: p1Raw, spikes: p1Spikes,
   series: [[p1Sdss, RED], [p1Mmt, BLUE]],
   legend: [["SDSS  (2001)", RED], ["MMT  (2017)", BLUE]], names: true},
  {top: 282,  height: 270, yDomain: [0, 15], yMajor: [0, 2, 4, 6, 8, 10, 12, 14], yMinorStep: 0.5,
   bands: p2Bands, raw: p2Raw, spikes: p2Spikes,
   series: [[p2Mmt, GREEN], [p2Sdss, RED], [p2Magellan, BLUE]],
   legend: [["SDSS  (2000)", RED], ["Magellan  (2016)", BLUE], ["MMT(2017)", GREEN]]},
  {top: 552,  height: 270, yDomain: [0, 49], yMajor: [0, 10, 20, 30, 40], yMinorStep: 1,
   bands: p3Bands, raw: p3Raw, spikes: p3Spikes,
   series: [[p3Sdss, RED], [p3Mmt, BLUE]],
   legend: [["SDSS  (2001)", RED], ["MMT  (2017)", BLUE]]},
  {top: 822,  height: 270, yDomain: [0, 29], yMajor: [0, 5, 10, 15, 20, 25], yMinorStep: 1,
   bands: p4Bands, raw: p4Raw, spikes: p4Spikes,
   series: [[p4Sdss, RED], [p4Mmt, BLUE]],
   legend: [["SDSS  (2000)", RED], ["MMT  (2017)", BLUE]]},
  {top: 1092, height: 270, yDomain: [0, 29], yMajor: [0, 5, 10, 15, 20, 25], yMinorStep: 1,
   bands: p5Bands, raw: p5Raw, spikes: p5Spikes,
   series: [[p5Sdss, RED], [p5Mmt, BLUE]],
   legend: [["SDSS  (2001)", RED], ["MMT  (2017)", BLUE]]},
  {top: 1362, height: 270, yDomain: [0, 29], yMajor: [0, 5, 10, 15, 20, 25], yMinorStep: 1,
   bands: p6Bands, raw: p6Raw, spikes: p6Spikes,
   series: [[p6Sdss, RED], [p6Wht, BLUE]],
   legend: [["SDSS  (2003)", RED], ["WHT  (2016)", BLUE]], xLabels: true}
];

const xMinor = d3.range(2200, 6740, xMinorStep).filter(v => !xMajorTicks.includes(v));
const FRAME_W = 949 - 136 - 14;

function drawPanel(p) {
  const yMinor = d3.range(0, p.yDomain[1] + 1e-9, p.yMinorStep)
    .filter(v => !p.yMajor.some(m => Math.abs(m - v) < 1e-9));
  const marginBottom = p.xLabels ? 48 : 0;
  const H = p.height;
  // tick lengths in pixels, expressed in each scale's units so the rules sit inside the frame
  const [x0, x1] = waveDomain, [y0, y1] = p.yDomain;
  const xu = (x1 - x0) / FRAME_W, yu = (y1 - y0) / H;
  const tick = {stroke: "#000", strokeWidth: 1.6};
  const xTicks = (values, len) => [
    Plot.ruleX(values, {x: d => d, y1: y0, y2: y0 + len * yu, ...tick}),
    Plot.ruleX(values, {x: d => d, y1: y1 - len * yu, y2: y1, ...tick})
  ];
  const yTicks = (values, len) => [
    Plot.ruleY(values, {y: d => d, x1: x0, x2: x0 + len * xu, ...tick}),
    Plot.ruleY(values, {y: d => d, x1: x1 - len * xu, x2: x1, ...tick})
  ];
  // tick labels: the ones sitting on the frame edge are nudged inward
  const innerLabels = p.yMajor.filter(v => v > y0 && v < y1 - 0.5);
  const edgeTop = p.yMajor.filter(v => v >= y1 - 0.5);
  const marks = [
    Plot.rect(p.bands, {x1: d => d[0], x2: d => d[1], fill: BAND}),
    Plot.areaY(p.raw, {x: d => d[0], y1: d => d[1], y2: d => d[2], fill: GRAY, clip: true}),
    Plot.ruleX(p.spikes, {x: d => d[0], y1: d => d[1], y2: d => d[2], stroke: GRAY, strokeWidth: 1.2, clip: true}),
    Plot.ruleX(lineWaves, {stroke: "#222", strokeWidth: 1.1, strokeDasharray: "1.2,2.6"}),
    ...p.series.map(([data, color]) =>
      Plot.line(data, {x: d => d[0], y: d => d[1], stroke: color, strokeWidth: 1.4, clip: true})),
    ...p.legend.map(([label, color], i) =>
      Plot.text([label], {text: d => d, frameAnchor: "top-right", dx: -35, dy: 40 + 24 * i,
        textAnchor: "end", lineAnchor: "middle", fill: color, fontSize: 22.5})),
    // inward ticks on all four sides
    ...xTicks(xMajorTicks, 9),
    ...xTicks(xMinor, 4.5),
    ...yTicks(p.yMajor, 14),
    ...yTicks(yMinor, 7),
    Plot.axisY({anchor: "left", ticks: innerLabels, tickSize: 0, tickPadding: 10, label: null, fontSize: 19.5}),
    Plot.axisY({anchor: "left", ticks: [y0], tickSize: 0, tickPadding: 10, label: null, fontSize: 19.5, dy: -5}),
    Plot.frame({stroke: "#111", strokeWidth: 2.2})
  ];
  if (edgeTop.length) {
    marks.push(Plot.axisY({anchor: "left", ticks: edgeTop, tickSize: 0, tickPadding: 10, label: null, fontSize: 19.5, dy: 7}));
  }
  if (p.names) {
    marks.push(Plot.text(lineNames, {x: (d, i) => lineNameWaves[i], text: d => d, frameAnchor: "top",
      rotate: -90, textAnchor: "end", lineAnchor: "bottom", dy: 2, dx: 1, fontSize: 12.5,
      fontWeight: 400, fill: "#111"}));
  }
  if (p.xLabels) {
    marks.push(Plot.axisX({anchor: "bottom", ticks: xMajorTicks, tickSize: 0, tickPadding: 16,
      label: null, fontSize: 20, tickFormat: d => String(d)}));
  } else {
    marks.push(Plot.axisX({ticks: [], label: null}));
  }
  const svg = Plot.plot({
    width: 949, height: H + marginBottom,
    marginLeft: 136, marginRight: 14, marginTop: 0, marginBottom,
    x: {domain: waveDomain},
    y: {domain: p.yDomain},
    style: {fontFamily: "'DejaVu Sans', sans-serif", fontWeight: 200, overflow: "visible", background: "transparent", color: "#222"},
    marks
  });
  const wrap = document.createElement("div");
  wrap.className = "panel";
  wrap.style.top = p.top + "px";
  wrap.appendChild(svg);
  return wrap;
}

const chart = document.getElementById("chart");
panels.forEach(p => chart.appendChild(drawPanel(p)));
</script>
</body>
</html>
